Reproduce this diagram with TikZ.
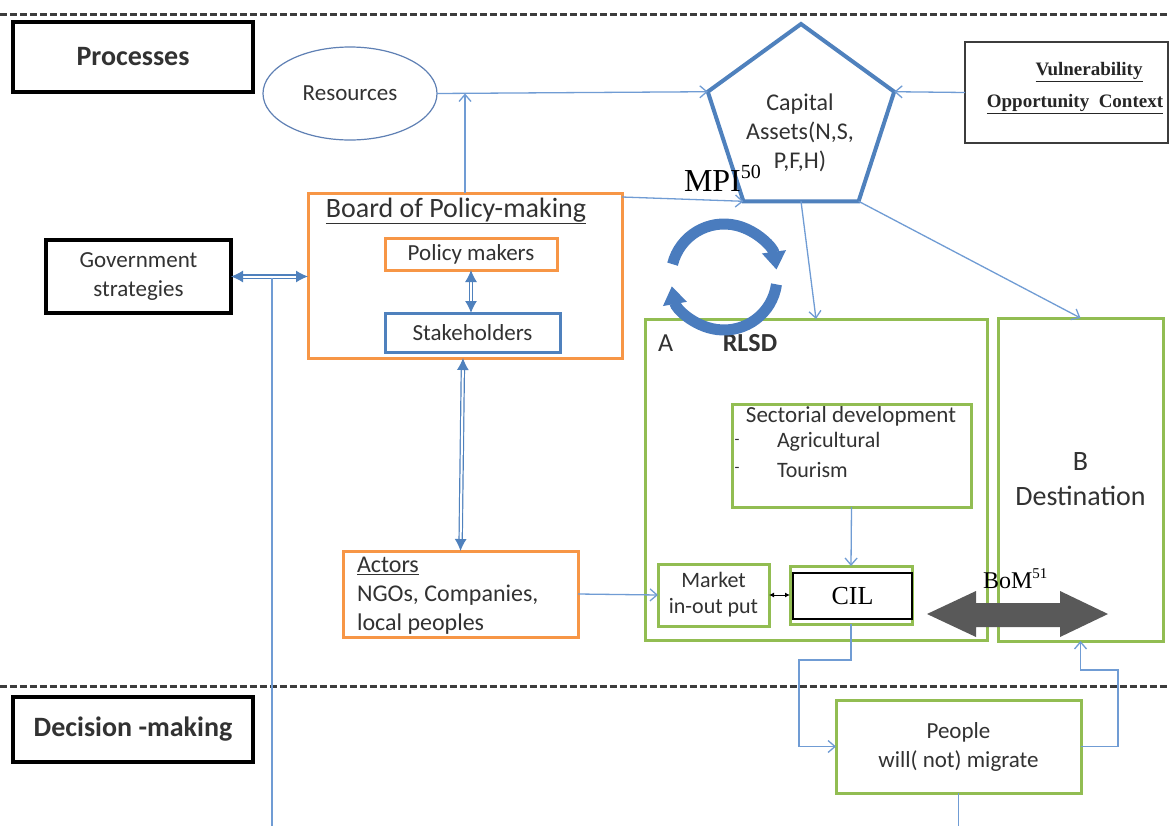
\documentclass[tikz,border=0pt]{standalone}
\usepackage{fontspec}
\setmainfont{Carlito}
\newfontfamily\tnr{Liberation Serif}
\usetikzlibrary{arrows.meta,shapes.geometric,calc}

\definecolor{offgreen}{RGB}{146,189,82}
\definecolor{offorange}{RGB}{247,150,70}
\definecolor{offblue}{RGB}{79,129,189}
\definecolor{linkblue}{RGB}{112,156,212}
\definecolor{ellblue}{RGB}{95,128,180}
\definecolor{txt}{RGB}{50,50,50}
\definecolor{ringblue}{RGB}{74,124,190}
\definecolor{bigarrow}{RGB}{89,89,89}
\definecolor{dashgray}{RGB}{60,60,60}

\begin{document}
\begin{tikzpicture}[x=1pt,y=-1pt,
  every node/.style={inner sep=0pt, outer sep=0pt, text=txt},
  wh/.style 2 args={minimum width=#1pt, minimum height=#2pt},
  blackbox/.style={draw=black, line width=4pt, font=\bfseries\fontsize{28}{34}\selectfont},
  gbox/.style={draw=offgreen, line width=3pt},
  obox/.style={draw=offorange, line width=3pt},
  bbox/.style={draw=offblue, line width=3pt},
  body/.style={font=\fontsize{23}{29}\selectfont, align=center},
  link/.style={draw=linkblue, line width=1.3pt},
  openarr/.style={link, -{Straight Barb[length=7pt,width=12pt]}},
  twoway/.style={draw=offblue, line width=1.2pt, double=white, double distance=2pt,
    {Latex[length=12pt,width=12pt]}-{Latex[length=12pt,width=12pt]}},
  smallarr/.style={draw=black, line width=1pt,
    {Latex[length=5pt,width=5pt]}-{Latex[length=5pt,width=5pt]}},
  ringarr/.style={draw=ringblue, line width=11pt, -{Triangle[width=23pt,length=18pt]}},
  dashline/.style={draw=dashgray, line width=3pt, dash pattern=on 7pt off 3pt}
]
\useasboundingbox (0,0) rectangle (1170,825);
\fill[white] (0,0) rectangle (1170,825);

% section separators
\draw[dashline] (0,14) -- (1170,14);
\draw[dashline] (0,686) -- (1170,686);

% section titles
\node[blackbox, wh={240}{70}] (proc) at (133,57) {Processes};
\node[blackbox, wh={240}{65}] (dec) at (133,729.5) {Decision -making};

% top row
\node[draw=ellblue, line width=1.2pt, ellipse, wh={174}{93}, body] (res) at (350,93.5) {Resources};
\node[regular polygon, regular polygon sides=5, minimum size=196pt, draw=offblue, line width=4pt] (cap) at (801,122) {};
\node[body, font=\fontsize{24}{29}\selectfont] (captxt) at (800,133) {Capital\\Assets(N,S,\\P,F,H)};
\node[draw=dashgray, line width=1.5pt, wh={203}{101}] (vul) at (1066.5,92.5) {};
\node[font=\tnr\bfseries\fontsize{19}{23}\selectfont, text=black!85] (vul1) at (1089,72) {\underline{Vulnerability}};
\node[font=\tnr\bfseries\fontsize{19}{23}\selectfont, text=black!85] (vul2) at (1075,104) {\underline{Opportunity\ \ Context}};
\node[font=\tnr\fontsize{32}{36}\selectfont, text=black, anchor=base west] (mpi) at (684,191)
  {MPI\raisebox{13pt}{\fontsize{20}{20}\selectfont 50}};

% policy board
\node[obox, wh={314}{165}] (board) at (465,275.5) {};
\node[font=\fontsize{28}{32}\selectfont] (boardt) at (456,211) {\underline{Board of Policy-making}};
\node[obox, wh={172}{32}, body] (pm) at (471,254) {Policy makers};
\node[bbox, wh={175}{39}, body] (sh) at (472.5,332.5) {Stakeholders};
\node[draw=black, line width=4pt, wh={185}{73}, body] (gov) at (138.5,276.5) {Government\\strategies};

% actors
\node[obox, wh={235}{86}] (actors) at (460.5,594) {};
\node[font=\fontsize{24}{29}\selectfont, align=left, anchor=west] (actt) at (357,596)
  {\underline{Actors}\\NGOs, Companies,\\local peoples};

% area A
\node[gbox, wh={342}{321}] (abox) at (816,479.5) {};
\node[font=\fontsize{26}{30}\selectfont, anchor=west] (alab) at (658,343) {A};
\node[font=\bfseries\fontsize{26}{30}\selectfont] (rlsd) at (750,343) {RLSD};
\node[gbox, wh={239}{103}] (sect) at (851.5,455.5) {};
\node[font=\fontsize{23}{28}\selectfont] (sectt) at (851,416) {Sectorial development};
\node[font=\fontsize{16}{18}\selectfont] (d1) at (737,442) {-};
\node[font=\fontsize{16}{18}\selectfont] (d2) at (737,470) {-};
\node[font=\fontsize{22}{26}\selectfont, anchor=west] (agri) at (777,442) {Agricultural};
\node[font=\fontsize{22}{26}\selectfont, anchor=west] (tour) at (777,470) {Tourism};
\node[gbox, wh={111}{62}, font=\fontsize{22}{26}\selectfont, align=center] (market) at (713.5,595) {Market\\in-out put};
\node[gbox, wh={122}{58}] (cilg) at (851,595) {};
\node[draw=black, line width=1.5pt, wh={119}{46}, font=\tnr\fontsize{26}{30}\selectfont, text=black] (cil) at (852.5,596) {CIL};

% area B
\node[gbox, wh={165}{323}, font=\fontsize{28}{35}\selectfont, align=center] (bbox) at (1080.5,479.5) {B\\Destination};

% decision
\node[gbox, wh={245}{93}, body] (people) at (958.5,746.5) {People\\will( not) migrate};

% block arrow between A and B
\fill[bigarrow] (927,614) -- (976,591) -- (976,603) -- (1060,603) -- (1060,591) -- (1108,614)
  -- (1060,637) -- (1060,627) -- (976,627) -- (976,637) -- cycle;
\node[font=\tnr\fontsize{24}{28}\selectfont, text=black, anchor=base west] (bom) at (983,588)
  {BoM\raisebox{10pt}{\fontsize{15}{15}\selectfont 51}};

% cycle symbol
\draw[ringarr] ([shift={(724,277)}]-166:53) arc[start angle=-166, end angle=-8, radius=53];
\draw[ringarr] ([shift={(724,277)}]8:53) arc[start angle=8, end angle=170, radius=53];

% connectors
\draw[openarr] (res.east) -- (cap.corner 2);
\draw[openarr] (board.north) -- (board.north |- res.east);
\draw[openarr] (vul.west) -- (cap.corner 5);
\draw[openarr] ([yshift=-4pt]board.north east) -- (cap.corner 3);
\draw[openarr] (cap.south) -- (abox.north);
\draw[openarr] (cap.corner 4) -- (bbox.north);
\draw[twoway] (pm.south) -- (pm.south |- sh.north);
\draw[twoway] (gov.east) -- (gov.east -| board.west);
\coordinate (govdrop) at (272,278);
\coordinate (govend) at (272,826);
\draw[link] (govdrop) -- (govend);
\draw[twoway] ($(board.south)+(-2,0)$) -- (actors.north);
\draw[openarr] (actors.east) -- (market.west);
\draw[openarr] (sect.south) -- (cilg.north);
\draw[smallarr] (market.east) -- (cilg.west);
\draw[openarr] (cilg.south) |- (799,660) |- (people.west);
\draw[openarr] (people.east) -| (1118,670) -| (bbox.south);
\draw[link] (people.south) -- (people.south |- 0,826);
\end{tikzpicture}
\end{document}
